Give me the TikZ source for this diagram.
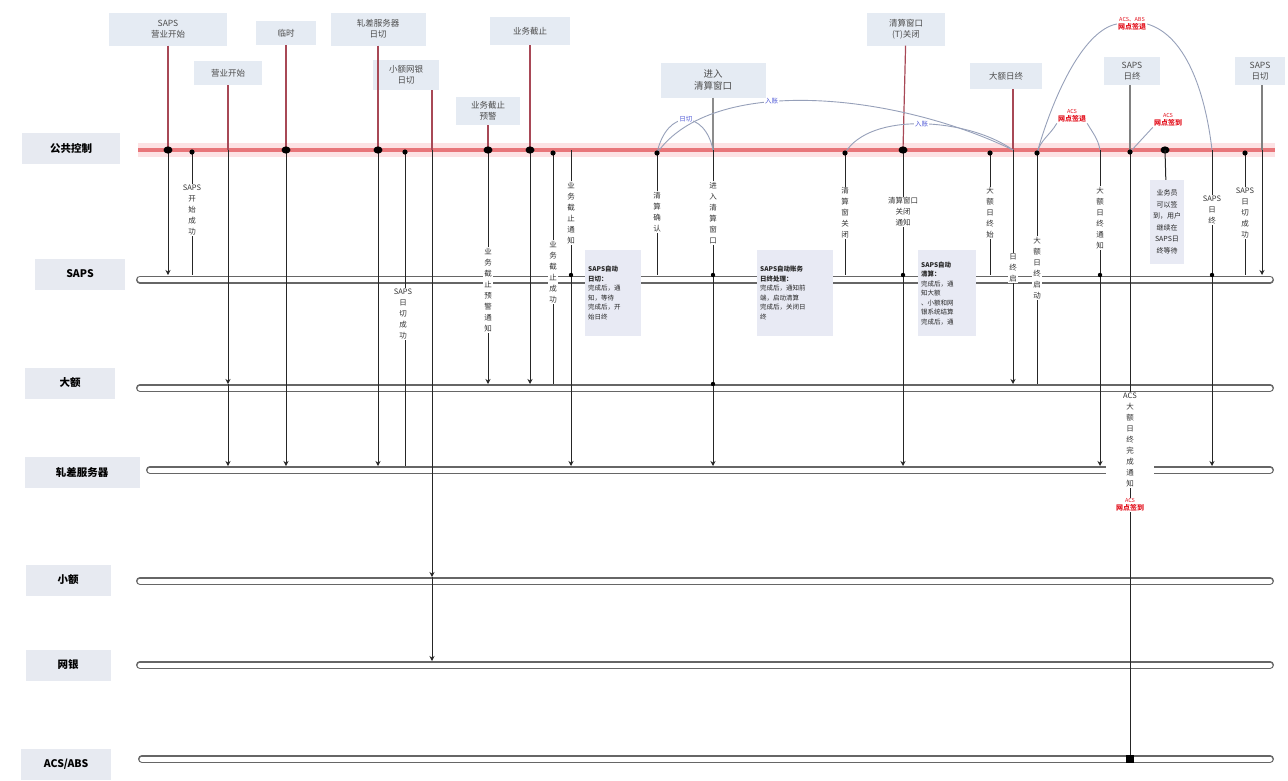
\documentclass[tikz,border=0pt]{standalone}
\usepackage{fontspec}
\usetikzlibrary{arrows.meta,positioning,calc}
\newfontfamily\cjk{Noto Sans CJK SC}
\definecolor{ctrlred}{RGB}{232,118,122}
\definecolor{ctrlglow}{RGB}{253,226,228}
\definecolor{boxfill}{RGB}{229,235,243}
\definecolor{lanefill}{RGB}{231,234,241}
\definecolor{laneshade}{RGB}{238,238,240}
\definecolor{notefill}{RGB}{232,234,244}
\definecolor{stemred}{RGB}{168,72,86}
\definecolor{arcgray}{RGB}{150,160,185}
\definecolor{labblue}{RGB}{80,90,215}
\definecolor{accred}{RGB}{228,20,32}

\begin{document}
\begin{tikzpicture}[
    x=1pt, y=-1pt,
    font=\cjk,
    lanelab/.style={rectangle, fill=lanefill, minimum height=31pt, align=center, font=\cjk\bfseries\fontsize{10.5}{12}\selectfont},
    toplab/.style={rectangle, fill=boxfill, minimum height=27pt, align=center, text=black!70, font=\cjk\fontsize{8.5}{10.5}\selectfont},
    vtext/.style={fill=white, inner sep=1pt, align=center, text=black!80, font=\cjk\fontsize{7.5}{11}\selectfont},
    notebox/.style={rectangle, fill=notefill, inner sep=3pt, align=left, text=black!85, font=\cjk\fontsize{6.5}{9.5}\selectfont},
    redlab/.style={fill=white, inner sep=1pt, align=center, text=accred, font=\cjk\fontsize{5.5}{7.5}\selectfont},
    bluelab/.style={fill=white, inner sep=1pt, text=labblue, font=\cjk\fontsize{6.5}{8}\selectfont},
    tube/.style={draw=black!60, double=white, double distance=5pt, line width=1.5pt, line cap=round},
    stem/.style={draw=stemred, line width=1.2pt},
    evline/.style={draw=black!85, line width=1pt},
    down/.style={evline, -{Stealth[length=5pt,width=5pt]}},
    arcline/.style={draw=arcgray, line width=0.9pt},
]
\useasboundingbox (0,0) rectangle (1288,780);

% lanes
\node[lanelab, minimum width=98pt] (lnCtrl) at (71,148) {公共控制};
\node[lanelab, minimum width=90pt] (lnSaps) at (80,274) {SAPS};
\node[lanelab, minimum width=90pt] (lnDae) at (70,383) {大额};
\node[lanelab, minimum width=115pt] (lnZc) at (82,472) {轧差服务器};
\node[lanelab, minimum width=85pt] (lnXiao) at (68,580) {小额};
\node[lanelab, minimum width=85pt] (lnWy) at (68,665) {网银};
\node[lanelab, minimum width=90pt] (lnAcs) at (66,764) {ACS/ABS};

\coordinate (ctrlL) at (138,150);  \coordinate (ctrlR) at (1275,150);
\coordinate (sapsL) at (140,279.5); \coordinate (sapsR) at (1270,279.5);
\coordinate (daeL) at (140,388);   \coordinate (daeR) at (1270,388);
\coordinate (zcL) at (150,470);    \coordinate (zcR) at (1270,470);
\coordinate (xiaoL) at (140,581);  \coordinate (xiaoR) at (1270,581);
\coordinate (wyL) at (140,665);    \coordinate (wyR) at (1270,665);
\coordinate (acsL) at (142,759);   \coordinate (acsR) at (1270,759);

\draw[ctrlglow, line width=14pt] (ctrlL) -- (ctrlR);
\draw[ctrlred, line width=4pt] (ctrlL) -- (ctrlR);
\draw[tube] (sapsL) -- (sapsR);
\draw[tube] (daeL) -- (daeR);
\draw[tube] (zcL) -- (zcR);
\draw[tube] (xiaoL) -- (xiaoR);
\draw[tube] (wyL) -- (wyR);
\draw[tube] (acsL) -- (acsR);

% top edges of the lanes
\coordinate (ySaps) at (0,275);
\coordinate (yDae) at (0,384);
\coordinate (yZc) at (0,466);
\coordinate (yXiao) at (0,577);
\coordinate (yWy) at (0,661);
\coordinate (yAcs) at (0,759);

% events on the control line
\coordinate (eA) at (168,150);
\coordinate (eB) at (192,152);
\coordinate (eC) at (228,150);
\coordinate (eD) at (286,150);
\coordinate (eE) at (378,150);
\coordinate (eF) at (405,152);
\coordinate (eG) at (432,150);
\coordinate (eH) at (488,150);
\coordinate (eI) at (530,150);
\coordinate (eJ) at (553,153);
\coordinate (eK) at (571,150);
\coordinate (eL) at (657,153);
\coordinate (eM) at (713,150);
\coordinate (eN) at (845,153);
\coordinate (eO) at (903,150);
\coordinate (eP) at (990,153);
\coordinate (eQ) at (1013,150);
\coordinate (eR) at (1037,153);
\coordinate (eS) at (1100,150);
\coordinate (eT) at (1130,152);
\coordinate (eU) at (1165,150);
\coordinate (eV) at (1212,150);
\coordinate (eW) at (1245,153);
\coordinate (eX) at (1262,150);

% top labels
\node[toplab, minimum width=118pt, minimum height=33pt] (tA) at (168,29) {SAPS\\营业开始};
\node[toplab, minimum width=68pt, minimum height=24pt] (tB) at (228,73) {营业开始};
\node[toplab, minimum width=60pt, minimum height=24pt] (tC) at (286,33) {临时};
\node[toplab, minimum width=95pt, minimum height=33pt] (tD) at (378,29) {轧差服务器\\日切};
\node[toplab, minimum width=66pt, minimum height=30pt] (tE) at (406,75) {小额网银\\日切};
\node[toplab, minimum width=64pt, minimum height=28pt] (tF) at (488,111) {业务截止\\预警};
\node[toplab, minimum width=80pt, minimum height=28pt] (tG) at (530,31) {业务截止};
\node[toplab, minimum width=105pt, minimum height=35pt, font=\cjk\fontsize{9.5}{11.5}\selectfont] (tH) at (713,80) {进入\\清算窗口};
\node[toplab, minimum width=78pt, minimum height=33pt] (tI) at (906,29) {清算窗口\\(T)关闭};
\node[toplab, minimum width=72pt, minimum height=26pt] (tJ) at (1006,76) {大额日终};
\node[toplab, minimum width=56pt, minimum height=28pt] (tK) at (1132,71) {SAPS\\日终};
\node[toplab, minimum width=50pt, minimum height=28pt] (tL) at (1260,71) {SAPS\\日切};

\draw[stem] (tA) -- (eA);
\draw[stem] (tB) -- (eC);
\draw[stem] (tC) -- (eD);
\draw[stem] (tD) -- (eE);
\draw[stem] (eG |- tE.south) -- (eG);
\draw[stem] (tF) -- (eH);
\draw[stem] (tG) -- (eI);
\draw[stem, draw=black!45] (tH) -- (eM);
\draw[stem] (tI) -- (eO);
\draw[stem] (eQ |- tJ.south) -- (eQ);
\draw[stem, draw=black!50] (eT |- tK.south) -- (eT);
\draw[stem, draw=black!50] (eX |- tL.south) -- (eX);

% arcs above the control line
\draw[arcline] (eL) .. controls +(10,-45) and +(-8,-40) .. (eM) node[pos=0.5, bluelab] (bA) {日切};
\draw[arcline] (eL) .. controls +(55,-78) and +(-120,-58) .. (eQ) node[pos=0.4, bluelab] (bB) {入账};
\draw[arcline] (eN) .. controls +(25,-42) and +(-45,-32) .. (eQ) node[pos=0.5, bluelab] (bC) {入账};

\node[redlab] (rA) at (1132,24) {ACS、ABS\\{\bfseries\fontsize{7}{8.5}\selectfont 网点签退}};
\node[redlab] (rB) at (1072,116) {ACS\\{\bfseries\fontsize{7}{8.5}\selectfont 网点签退}};
\node[redlab] (rC) at (1168,120) {ACS\\{\bfseries\fontsize{7}{8.5}\selectfont 网点签到}};
\draw[arcline] (eR) to[out=75, in=240] (rB.south west);
\draw[arcline] (rB.south east) to[out=-60, in=100] (eS);
\draw[arcline] (eR) .. controls (1055,90) and (1085,30) .. (rA.west);
\draw[arcline] (rA.east) .. controls (1185,35) and (1205,90) .. (eV);
\draw[arcline] (rC.south west) -- (eT);

% connectors down to the lanes
\draw[down] (eA) -- (eA |- ySaps);
\draw[evline] (eB) -- (eB |- ySaps);
\draw[down] (eC) -- (eC |- yDae);
\draw[down] (eC |- yDae) -- (eC |- yZc);
\draw[down] (eD) -- (eD |- yZc);
\draw[down] (eE) -- (eE |- yZc);
\draw[evline] (eF) -- (eF |- yZc);
\draw[down] (eG) -- (eG |- yXiao);
\draw[down] (eG |- yXiao) -- (eG |- yWy);
\draw[down] (eH) -- (eH |- yDae);
\draw[down] (eI) -- (eI |- yDae);
\draw[evline] (eJ) -- (eJ |- yDae);
\draw[down] (eK) -- (eK |- yZc);
\draw[evline] (eL) -- (eL |- ySaps);
\draw[down] (eM) -- (eM |- yZc);
\draw[evline] (eN) -- (eN |- ySaps);
\draw[down] (eO) -- (eO |- yZc);
\draw[evline] (eP) -- (eP |- ySaps);
\draw[down] (eQ) -- (eQ |- yDae);
\draw[evline] (eR) -- (eR |- yDae);
\draw[down] (eS) -- (eS |- yZc);
\draw[evline] (eT) -- (eT |- yAcs);
\draw[down] (eV) -- (eV |- yZc);
\draw[evline] (eW) -- (eW |- ySaps);
\draw[down] (eX) -- (eX |- ySaps);

% dots on the control line and on the lanes
\foreach \p in {eA,eD,eE,eH,eI,eO,eU}
  \fill (\p) ellipse (4.5 and 3.6);
\foreach \p in {eB,eF,eJ,eL,eN,eP,eR,eT,eW}
  \fill (\p) circle (2.6);
\foreach \p in {eK,eM,eO,eS,eV}
  \fill (\p |- ySaps) circle (2.2);
\fill (eM |- yDae) circle (2.2);
\fill[black] ($(eT |- yAcs)+(-4,-4)$) rectangle ($(eT |- yAcs)+(4,4)$);

% note beside the control line
\node[notebox, align=center, font=\cjk\fontsize{7}{11.5}\selectfont, minimum height=84pt] (nU) at (1167,222) {业务员\\可以签\\到，用户\\继续在\\SAPS日\\终等待};
\draw[evline] (eU) -- (nU);

% texts on the connectors
\node[vtext] (vB) at (192,210) {SAPS\\开\\始\\成\\功};
\node[vtext] (vF) at (403,314) {SAPS\\日\\切\\成\\功};
\node[vtext] (vH) at (488,290) {业\\务\\截\\止\\预\\警\\通\\知};
\node[vtext] (vJ) at (553,272) {业\\务\\截\\止\\成\\功};
\node[vtext] (vK) at (571,213) {业\\务\\截\\止\\通\\知};
\node[vtext] (vL) at (657,212) {清\\算\\确\\认};
\node[vtext] (vM) at (713,213) {进\\入\\清\\算\\窗\\口};
\node[vtext] (vN) at (845,213) {清\\算\\窗\\关\\闭};
\node[vtext] (vO) at (903,212) {清算窗口\\关闭\\通知};
\node[vtext] (vP) at (990,213) {大\\额\\日\\终\\始};
\node[vtext] (vQ) at (1013,268) {日\\终\\启};
\node[vtext] (vR) at (1037,268) {大\\额\\日\\终\\启\\动};
\node[vtext] (vS) at (1100,218) {大\\额\\日\\终\\通\\知};
\node[vtext, minimum width=48pt] (vT) at (1130,440) {ACS\\大\\额\\日\\终\\完\\成\\通\\知};
\node[redlab] (rT) at (1130,505) {ACS\\{\bfseries\fontsize{7}{8.5}\selectfont 网点签到}};
\node[vtext] (vV) at (1212,210) {SAPS\\日\\终};
\node[vtext] (vW) at (1245,213) {SAPS\\日\\切\\成\\功};

% notes on the SAPS lane
\node[notebox, text width=50pt, minimum height=86pt, anchor=north west] (nK) at (585,250) {\textbf{SAPS自动}\\\textbf{日切：}\\完成后，通\\知，等待\\完成后，开\\始日终};
\node[notebox, text width=70pt, minimum height=86pt, anchor=north west] (nM) at (757,250) {\textbf{SAPS自动账务}\\\textbf{日终处理：}\\完成后，通知前\\端，启动清算\\完成后，关闭日\\终};
\node[notebox, text width=52pt, minimum height=86pt, anchor=north west] (nP) at (918,250) {\textbf{SAPS自动}\\\textbf{清算：}\\完成后，通\\知大额\\、小额和网\\银系统结算\\完成后，通};

\end{tikzpicture}
\end{document}
